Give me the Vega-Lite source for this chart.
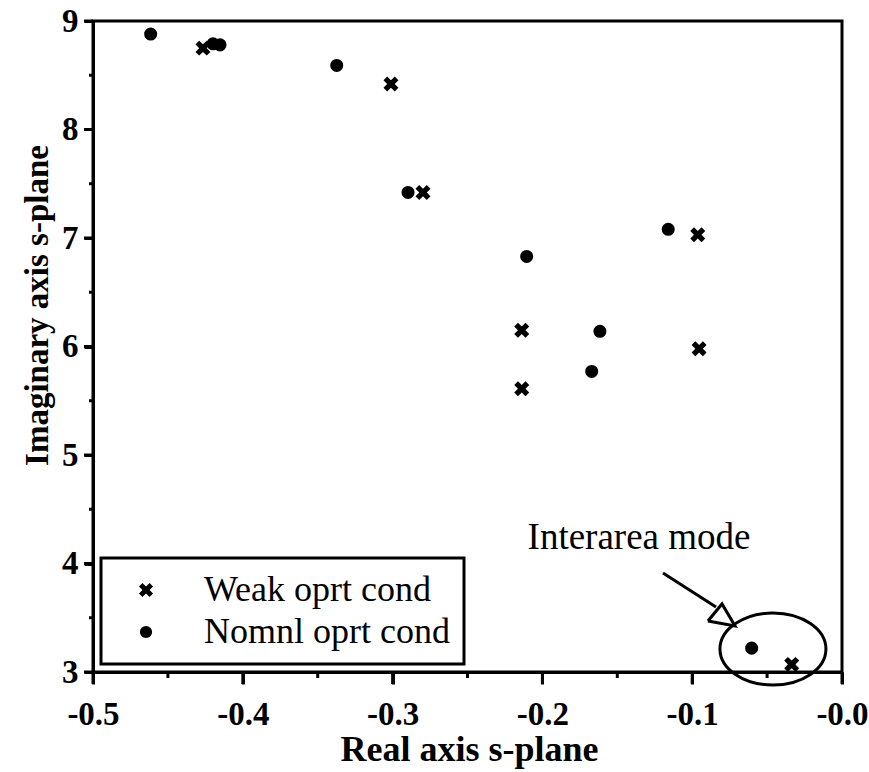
{
  "$schema": "https://vega.github.io/schema/vega-lite/v6.json",
  "width": 749,
  "height": 651,
  "autosize": "none",
  "padding": {"left": 93, "top": 21, "right": 27, "bottom": 100},
  "background": "white",
  "config": {
    "view": {"stroke": "black", "strokeWidth": 3},
    "legend": {"strokeWidth": 3},
    "axis": {
      "domainColor": "black", "domainWidth": 3,
      "grid": false, "labelColor": "black", "titleColor": "black",
      "labelFont": "Liberation Serif", "labelFontWeight": "bold", "labelFontSize": 33,
      "titleFont": "Liberation Serif", "titleFontWeight": "bold",
      "labelOverlap": false, "labelFlush": false
    }
  },
  "datasets": {
    "ellipse": [{"x": -0.0461, "y": 3.212}],
    "arrow": [
      {"part": "shaft", "ord": 1, "x": -0.1195, "y": 3.912},
      {"part": "shaft", "ord": 2, "x": -0.0841, "y": 3.599},
      {"part": "head", "ord": 1, "x": -0.0895, "y": 3.47},
      {"part": "head", "ord": 2, "x": -0.0714, "y": 3.424},
      {"part": "head", "ord": 3, "x": -0.0801, "y": 3.627},
      {"part": "head", "ord": 4, "x": -0.0895, "y": 3.47}
    ],
    "note": [{"x": -0.1355, "y": 4.134, "label": "Interarea mode"}],
    "xmajor": [{"t": -0.5}, {"t": -0.4}, {"t": -0.3}, {"t": -0.2}, {"t": -0.1}, {"t": 0}],
    "xminor": [{"t": -0.45}, {"t": -0.35}, {"t": -0.25}, {"t": -0.15}, {"t": -0.05}],
    "ymajor": [{"t": 3}, {"t": 4}, {"t": 5}, {"t": 6}, {"t": 7}, {"t": 8}, {"t": 9}],
    "yminor": [{"t": 3.5}, {"t": 4.5}, {"t": 5.5}, {"t": 6.5}, {"t": 7.5}, {"t": 8.5}]
  },
  "layer": [
    {
      "data": {"values": [
        {"re": -0.4615, "im": 8.88, "cond": "Nomnl oprt cond"},
        {"re": -0.4266, "im": 8.75, "cond": "Weak oprt cond"},
        {"re": -0.4199, "im": 8.79, "cond": "Nomnl oprt cond"},
        {"re": -0.4152, "im": 8.78, "cond": "Nomnl oprt cond"},
        {"re": -0.3373, "im": 8.59, "cond": "Nomnl oprt cond"},
        {"re": -0.3011, "im": 8.42, "cond": "Weak oprt cond"},
        {"re": -0.2897, "im": 7.42, "cond": "Nomnl oprt cond"},
        {"re": -0.2797, "im": 7.42, "cond": "Weak oprt cond"},
        {"re": -0.116, "im": 7.08, "cond": "Nomnl oprt cond"},
        {"re": -0.0963, "im": 7.03, "cond": "Weak oprt cond"},
        {"re": -0.2105, "im": 6.83, "cond": "Nomnl oprt cond"},
        {"re": -0.2138, "im": 6.15, "cond": "Weak oprt cond"},
        {"re": -0.1616, "im": 6.14, "cond": "Nomnl oprt cond"},
        {"re": -0.0954, "im": 5.98, "cond": "Weak oprt cond"},
        {"re": -0.1671, "im": 5.77, "cond": "Nomnl oprt cond"},
        {"re": -0.2138, "im": 5.61, "cond": "Weak oprt cond"},
        {"re": -0.0603, "im": 3.22, "cond": "Nomnl oprt cond"},
        {"re": -0.0336, "im": 3.07, "cond": "Weak oprt cond"}
      ]},
      "mark": {"type": "point", "filled": true, "color": "black", "opacity": 1, "size": 170},
      "encoding": {
        "x": {
          "field": "re", "type": "quantitative",
          "scale": {"domain": [-0.5, 0], "nice": false, "zero": false},
          "axis": {
            "values": [-0.5, -0.4, -0.3, -0.2, -0.1, 0],
            "labelExpr": "'-' + format(abs(datum.value), '.1f')",
            "tickSize": 12, "tickColor": "black", "tickWidth": 3,
            "labelBaseline": "alphabetic", "labelPadding": 40,
            "title": "Real axis s-plane", "titleFontSize": 36,
            "titleX": 376, "titleY": 88, "titleBaseline": "alphabetic", "titleAlign": "center"
          }
        },
        "y": {
          "field": "im", "type": "quantitative",
          "scale": {"domain": [3, 9], "nice": false, "zero": false},
          "axis": {
            "values": [3, 4, 5, 6, 7, 8, 9],
            "format": "d",
            "tickSize": 9, "tickColor": "black", "tickWidth": 3,
            "labelPadding": 6, "labelBaseline": "middle",
            "title": "Imaginary axis s-plane", "titleFontSize": 33,
            "titleAngle": 270, "titleX": -46, "titleY": 284, "titleBaseline": "alphabetic", "titleAlign": "center"
          }
        },
        "shape": {
          "field": "cond", "type": "nominal",
          "scale": {
            "domain": ["Weak oprt cond", "Nomnl oprt cond"],
            "range": ["M-1.15,-0.58L-0.58,-1.15L0,-0.58L0.58,-1.15L1.15,-0.58L0.58,0L1.15,0.58L0.58,1.15L0,0.58L-0.58,1.15L-1.15,0.58L-0.58,0Z", "circle"]
          },
          "legend": {
            "title": null, "orient": "none", "legendX": 8, "legendY": 537,
            "padding": 14, "symbolOffset": 13, "labelOffset": 40, "rowPadding": 6, "labelLimit": 500,
            "symbolSize": 150, "symbolFillColor": "black", "symbolStrokeColor": "black", "symbolStrokeWidth": 0,
            "labelFont": "Liberation Serif", "labelFontSize": 36, "labelColor": "black", "labelFontWeight": "normal",
            "labelExpr": "datum.label + '  '",
            "strokeColor": "black", "fillColor": "white"
          }
        }
      }
    },
    {
      "data": {"name": "xmajor"},
      "mark": {"type": "rule", "color": "black", "strokeWidth": 3, "y2Offset": 12, "clip": false},
      "encoding": {
        "x": {"field": "t", "type": "quantitative"},
        "y": {"datum": 3, "type": "quantitative"},
        "y2": {"datum": 3}
      }
    },
    {
      "data": {"name": "xminor"},
      "mark": {"type": "rule", "color": "black", "strokeWidth": 3, "y2Offset": 6, "clip": false},
      "encoding": {
        "x": {"field": "t", "type": "quantitative"},
        "y": {"datum": 3, "type": "quantitative"},
        "y2": {"datum": 3}
      }
    },
    {
      "data": {"name": "ymajor"},
      "mark": {"type": "rule", "color": "black", "strokeWidth": 3, "x2Offset": -9, "clip": false},
      "encoding": {
        "y": {"field": "t", "type": "quantitative"},
        "x": {"datum": -0.5, "type": "quantitative"},
        "x2": {"datum": -0.5}
      }
    },
    {
      "data": {"name": "yminor"},
      "mark": {"type": "rule", "color": "black", "strokeWidth": 3, "x2Offset": -4, "clip": false},
      "encoding": {
        "y": {"field": "t", "type": "quantitative"},
        "x": {"datum": -0.5, "type": "quantitative"},
        "x2": {"datum": -0.5}
      }
    },
    {
      "data": {"name": "ellipse"},
      "mark": {"type": "point", "filled": false, "stroke": "black", "strokeWidth": 3, "opacity": 1,
        "shape": "M-1,0A1,0.68 0 1,0 1,0A1,0.68 0 1,0 -1,0Z", "size": 11236, "clip": false},
      "encoding": {
        "x": {"field": "x", "type": "quantitative"},
        "y": {"field": "y", "type": "quantitative"}
      }
    },
    {
      "data": {"name": "arrow"},
      "mark": {"type": "line", "color": "black", "strokeWidth": 3, "strokeJoin": "miter"},
      "encoding": {
        "x": {"field": "x", "type": "quantitative"},
        "y": {"field": "y", "type": "quantitative"},
        "detail": {"field": "part", "type": "nominal"},
        "order": {"field": "ord", "type": "quantitative"}
      }
    },
    {
      "data": {"name": "note"},
      "mark": {"type": "text", "font": "Liberation Serif", "fontSize": 37, "color": "black", "align": "center", "baseline": "alphabetic"},
      "encoding": {
        "x": {"field": "x", "type": "quantitative"},
        "y": {"field": "y", "type": "quantitative"},
        "text": {"field": "label", "type": "nominal"}
      }
    }
  ]
}
